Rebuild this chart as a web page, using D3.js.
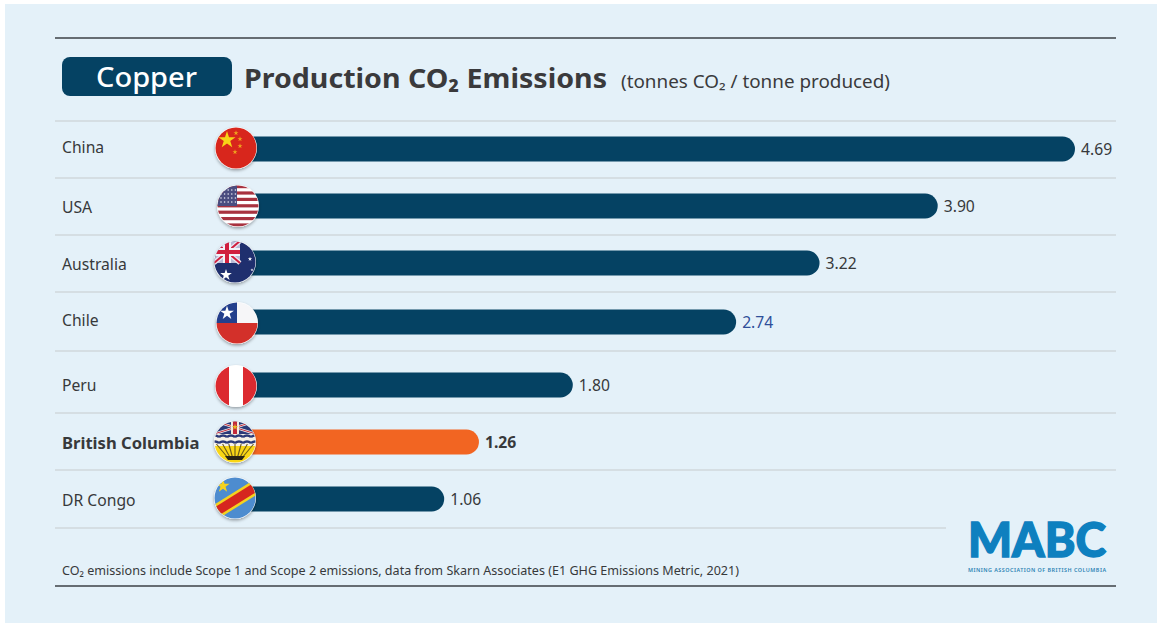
<!DOCTYPE html>
<html><head><meta charset="utf-8">
<script src="https://cdn.jsdelivr.net/npm/d3@7"></script>
<style>html,body{margin:0;padding:0;background:#fff}svg{display:block}text{font-family:"Noto Sans","Open Sans",sans-serif}</style>
</head><body><script>
const categories=["China","USA","Australia","Chile","Peru","British Columbia","DR Congo"];
const values=[4.69,3.90,3.22,2.74,1.80,1.26,1.06];
const highlighted="British Columbia";
const blueLabel="Chile";
const title="Production CO₂ Emissions";
const unit="(tonnes CO₂ / tonne produced)";
const footnote="CO₂ emissions include Scope 1 and Scope 2 emissions, data from Skarn Associates (E1 GHG Emissions Metric, 2021)";

const W=1157,H=623;
const svg=d3.select("body").append("svg").attr("width",W).attr("height",H);
svg.append("rect").attr("x",5).attr("y",4).attr("width",W-5).attr("height",H-4).attr("fill","#e4f1f9");
const defs=svg.append("defs");
const f=defs.append("filter").attr("id","sh").attr("x","-30%").attr("y","-30%").attr("width","160%").attr("height","160%");
f.append("feDropShadow").attr("dx",0).attr("dy",1.5).attr("stdDeviation",1.6).attr("flood-color","#000").attr("flood-opacity",.35);

const x=d3.scaleLinear().domain([0,4.69]).range([260,1075]);
const y=d3.scaleOrdinal().domain(categories).range([149,206,263,322,385,442,499]);
const labelY=d3.scaleOrdinal().domain(categories).range([147,207,264,320,385,443,500]);
const flagX=d3.scaleOrdinal().domain(categories).range([236,238,235,237,236,235,235]);
const flagY=d3.scaleOrdinal().domain(categories).range([148,206,262,323,386,442,498]);
const rules=[121,178,235,292,351,413,470,528];

svg.append("line").attr("x1",55).attr("x2",1116).attr("y1",38).attr("y2",38).attr("stroke","#3c4146").attr("stroke-width",1.6);
svg.append("line").attr("x1",55).attr("x2",1116).attr("y1",586).attr("y2",586).attr("stroke","#3c4146").attr("stroke-width",1.6);
svg.selectAll(".rule").data(rules).join("line").attr("x1",55)
  .attr("x2",(d,i)=>i==rules.length-1?946:1116).attr("y1",d=>d).attr("y2",d=>d)
  .attr("stroke","#c5cbce").attr("stroke-width",1.2);

svg.append("rect").attr("x",62).attr("y",57).attr("width",170).attr("height",39).attr("rx",8).attr("fill","#054263");
svg.append("text").attr("x",96).attr("y",86.5).attr("fill","#fff").attr("font-size",27).attr("font-weight",500).attr("textLength",101).attr("lengthAdjust","spacingAndGlyphs").text("Copper");
svg.append("text").attr("x",244).attr("y",88).attr("fill","#3a3a3c").attr("font-size",27.5).attr("font-weight",700).attr("textLength",363).attr("lengthAdjust","spacingAndGlyphs").text(title);
svg.append("text").attr("x",621).attr("y",88).attr("fill","#3a3a3c").attr("font-size",18.5).attr("textLength",269).attr("lengthAdjust","spacingAndGlyphs").text(unit);

const rows=svg.selectAll(".row").data(categories.map((c,i)=>({c,v:values[i]}))).join("g");
rows.append("text").attr("x",62).attr("y",d=>labelY(d.c)+5.5).attr("font-size",d=>d.c==highlighted?16.6:15.7)
  .attr("font-weight",d=>d.c==highlighted?700:400).attr("fill","#37393b").text(d=>d.c);
rows.append("path").attr("fill",d=>d.c==highlighted?"#f26522":"#054263").attr("d",d=>{
  const h=12.5,a=flagX(d.c),b=x(d.v),m=y(d.c);
  return `M${a},${m-h}H${b-h}A${h},${h} 0 0 1 ${b-h},${m+h}H${a}Z`;
});
rows.append("text").attr("x",d=>x(d.v)+6).attr("y",d=>y(d.c)+5.5).attr("font-size",15.7)
  .attr("font-weight",d=>d.c==highlighted?700:400)
  .attr("fill",d=>d.c==blueLabel?"#2f4f9a":"#37393b").text(d=>d.v.toFixed(2));

const star=(g,cx,cy,s,fill,rot=0)=>g.append("path").attr("d",d3.symbol(d3.symbolStar,s)()).attr("transform",`translate(${cx},${cy}) rotate(${rot})`).attr("fill",fill);
const R=(g,a,b,w,h,fill)=>g.append("rect").attr("x",a).attr("y",b).attr("width",w).attr("height",h).attr("fill",fill);
const L=(g,a,b,c,d,col,w)=>g.append("line").attr("x1",a).attr("y1",b).attr("x2",c).attr("y2",d).attr("stroke",col).attr("stroke-width",w);

const flags={
 "China":g=>{R(g,-21,-21,42,42,"#d8261c");star(g,-9,-8,90,"#f7d417");
   [[0,-15],[4,-9],[4,-2],[-1,4]].forEach(p=>star(g,p[0],p[1],8,"#f0a51e"));},
 "USA":g=>{R(g,-21,-21,42,42,"#fff");
   d3.range(7).forEach(i=>R(g,-21,-21+i*6.4,42,3.2,"#a8323f"));
   R(g,-21,-21,20,21,"#4a4d80");
   d3.range(4).forEach(r=>d3.range(5).forEach(c=>g.append("circle").attr("cx",-17+c*3.6).attr("cy",-16+r*4).attr("r",.8).attr("fill","#e6e6f0")));},
 "Australia":g=>{R(g,-21,-21,42,42,"#1f2f6e");
   R(g,-21,-21,26,22,"#b9bad6");
   L(g,-21,-21,5,1,"#e8eaf5",4.5);L(g,-21,1,5,-21,"#e8eaf5",4.5);
   L(g,-21,-21,5,1,"#d0203f",2);L(g,-21,1,5,-21,"#d0203f",2);
   R(g,-12,-21,8,22,"#f2f2f8");R(g,-21,-14,26,8,"#f2f2f8");
   R(g,-10,-21,4,22,"#d0203f");R(g,-21,-12,26,4,"#d0203f");
   star(g,-9,13,42,"#fff");star(g,15,-3,6,"#fff");star(g,17,8,3,"#fff");},
 "Chile":g=>{R(g,-21,-21,42,21,"#f6f6f8");R(g,-21,0,42,21,"#d3302a");R(g,-21,-21,21,21,"#233f8c");star(g,-10,-10,60,"#fff");},
 "Peru":g=>{R(g,-21,-21,42,42,"#fff");R(g,-21,-21,14,42,"#dc2a30");R(g,7,-21,14,42,"#dc2a30");},
 "British Columbia":g=>{R(g,-21,-21,42,42,"#f5f0e6");
   R(g,-21,-21,42,13,"#2b3a78");
   L(g,-21,-21,21,-8,"#eee",2.5);L(g,-21,-8,21,-21,"#eee",2.5);
   L(g,-21,-21,21,-8,"#c22a3a",1);L(g,-21,-8,21,-21,"#c22a3a",1);
   R(g,-4,-21,8,13,"#f0ece0");R(g,-2,-21,4,13,"#c22a3a");
   star(g,0,-15,12,"#e8b923");
   d3.range(6).forEach(i=>{g.append("path").attr("d",`M${-24+i*8},-5q4,-3 8,0`).attr("fill","none").attr("stroke","#2b3a78").attr("stroke-width",2.4);
     g.append("path").attr("d",`M${-24+i*8},1q4,-3 8,0`).attr("fill","none").attr("stroke","#2b3a78").attr("stroke-width",2.4);});
   g.append("path").attr("d","M-21,4H21V21H-21Z").attr("fill","#f9d616");
   d3.range(-3,4).forEach(i=>L(g,i*2.6,15,i*6.2,2,"#6b5a1a",1.1));
   g.append("path").attr("d","M-10,14H10L7,18H-7Z").attr("fill","#2a2414");},
 "DR Congo":g=>{R(g,-21,-21,42,42,"#4d8ccf");
   L(g,-24,17,24,-13,"#f4d21f",14);L(g,-24,17,24,-13,"#d6261f",9);
   star(g,-12,-12,55,"#f4d21f");}
};
rows.each(function(d,i){
  const cid="clip"+i;
  defs.append("clipPath").attr("id",cid).append("circle").attr("r",20.5);
  const g=d3.select(this).append("g").attr("transform",`translate(${flagX(d.c)},${flagY(d.c)})`);
  g.append("circle").attr("r",21).attr("fill","#fff").attr("filter","url(#sh)");
  const inner=g.append("g").attr("clip-path",`url(#${cid})`);
  flags[d.c](inner);
});

svg.append("text").attr("x",62).attr("y",575).attr("font-size",12.8).attr("fill","#37393b").attr("textLength",677).attr("lengthAdjust","spacingAndGlyphs").text(footnote);
svg.append("text").attr("x",968).attr("y",557).style("font-family","Lato,sans-serif").attr("font-weight",900).attr("font-size",47).attr("fill","#0e80bf").attr("stroke","#0e80bf").attr("stroke-width",1.4).attr("stroke-linejoin","miter").attr("textLength",138).attr("lengthAdjust","spacingAndGlyphs").text("MABC");
svg.append("text").attr("x",968).attr("y",572).attr("font-size",5.4).attr("font-weight",600).attr("fill","#2d84b5").attr("textLength",138).attr("lengthAdjust","spacing").text("MINING ASSOCIATION OF BRITISH COLUMBIA");
</script></body></html>
